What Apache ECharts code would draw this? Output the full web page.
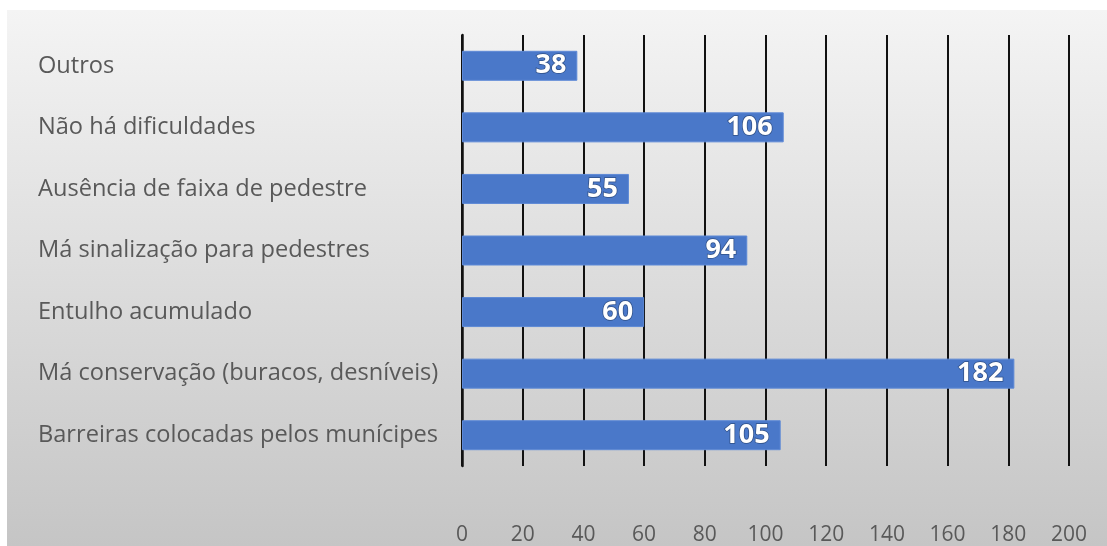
<!DOCTYPE html>
<html>
<head>
<meta charset="utf-8">
<script src="https://cdn.jsdelivr.net/npm/echarts@6/dist/echarts.min.js"></script>
<style>
  html, body { margin: 0; padding: 0; background: #ffffff; }
  #chart { width: 1107px; height: 546px; }
</style>
</head>
<body>
<div id="chart"></div>
<script>
// Difficulties reported by pedestrians (count of answers)
const categories = [
  'Outros',
  'Não há dificuldades',
  'Ausência de faixa de pedestre',
  'Má sinalização para pedestres',
  'Entulho acumulado',
  'Má conservação (buracos, desníveis)',
  'Barreiras colocadas pelos munícipes'
];
const counts = [38, 106, 55, 94, 60, 182, 105];
const xTicks = { min: 0, max: 200, interval: 20 };

const chart = echarts.init(document.getElementById('chart'), null, { renderer: 'canvas' });

const font = '"Open Sans", "Noto Sans", sans-serif';

chart.setOption({
  animation: false,
  backgroundColor: '#ffffff',
  graphic: [{
    type: 'rect',
    left: 7, top: 10, z: -10,
    shape: { width: 1100, height: 536 },
    style: {
      fill: {
        type: 'linear', x: 0, y: 0, x2: 0, y2: 1,
        colorStops: [
          { offset: 0, color: '#f4f4f4' },
          { offset: 1, color: '#c5c5c5' }
        ]
      }
    }
  }],
  grid: { left: 462, right: 38, top: 35, bottom: 78, containLabel: false },
  xAxis: {
    type: 'value',
    min: xTicks.min, max: xTicks.max, interval: xTicks.interval,
    axisLine: { show: false },
    axisTick: { show: false },
    axisLabel: { color: '#595959', fontSize: 21, margin: 59, fontFamily: font },
    splitLine: { show: true, lineStyle: { color: '#111111', width: 2 } }
  },
  yAxis: {
    type: 'category',
    inverse: true,
    data: categories,
    axisLine: { show: true, lineStyle: { color: '#111111', width: 2.5 } },
    axisTick: { show: false },
    axisLabel: {
      align: 'left', margin: 424, color: '#595959', fontSize: 23.6, fontFamily: font
    }
  },
  series: [{
    type: 'bar',
    data: counts,
    barWidth: 30,
    itemStyle: { color: '#4a78c9', borderColor: '#5d89d6', borderWidth: 1 },
    label: {
      show: true,
      position: 'insideRight',
      distance: 11,
      color: '#ffffff',
      fontSize: 27,
      fontWeight: 'bold',
      fontFamily: font,
      textBorderColor: '#2f4f86',
      textBorderWidth: 1.5
    }
  }]
});
</script>
</body>
</html>
